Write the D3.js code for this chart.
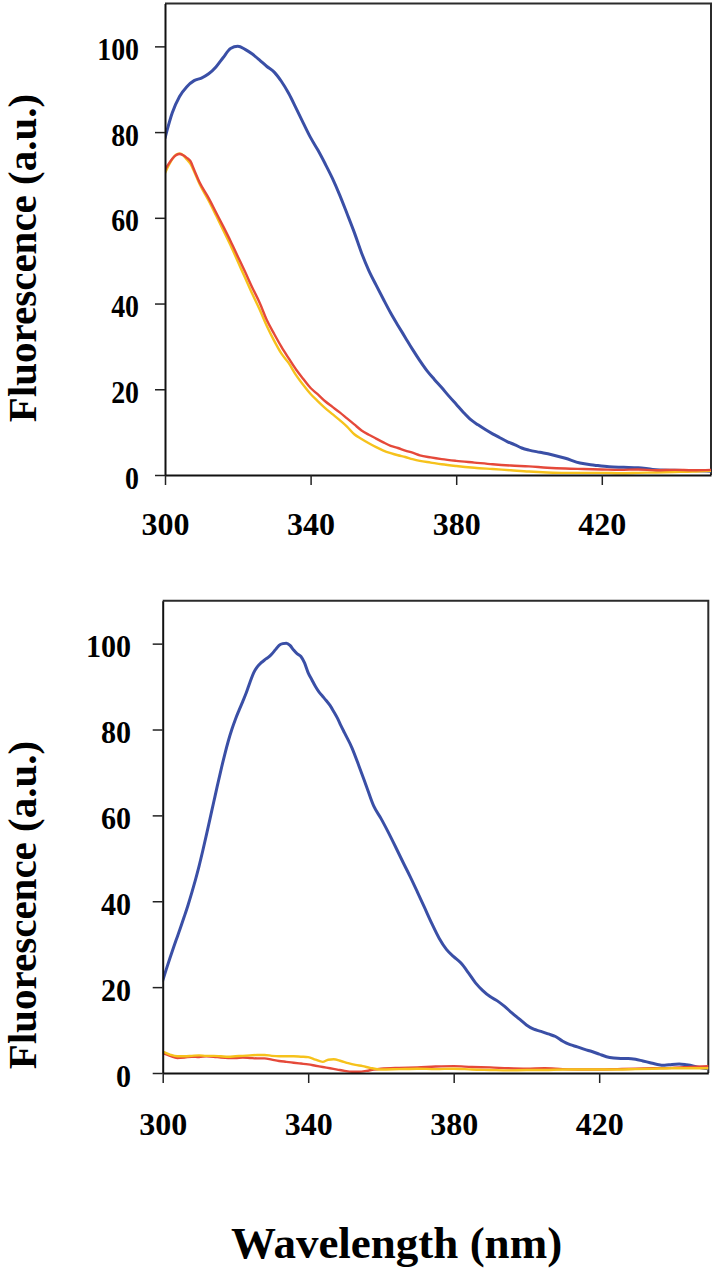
<!DOCTYPE html>
<html>
<head>
<meta charset="utf-8">
<script src="https://cdn.jsdelivr.net/npm/d3@7"></script>
<style>
  html, body { margin: 0; padding: 0; background: #ffffff; }
  svg { display: block; }
  text { font-family: "Liberation Serif", "Times New Roman", serif; font-weight: bold; fill: #000; }
</style>
</head>
<body>
<svg id="chart" width="715" height="1280"></svg>
<script>
// ---------- DATA ----------
const wavelengthTicks = [300, 340, 380, 420];
const fluorTicks = [0, 20, 40, 60, 80, 100];
const xDomain = [300, 450];
const yDomain = [0, 110];
const yTitle = "Fluorescence (a.u.)";
const xTitle = "Wavelength (nm)";

// top panel
const topBlue = [[300,78.6],[302,84.5],[304,88.3],[306,90.6],[308,92],[310,92.6],[312,93.6],[314,95.2],[316,97.4],[318,99.5],[320,100],[322,99.3],[324,98.2],[326,96.8],[328,95.3],[330,94],[332,91.8],[334,89],[336,85.6],[338,82.1],[340,78.7],[342,75.8],[344,72.6],[346,69.2],[348,65.3],[350,61],[352,56.6],[354,51.8],[356,47.7],[358,44.3],[360,41],[362,37.8],[364,34.9],[366,32.1],[368,29.3],[370,26.7],[372,24.3],[374,22.3],[376,20.4],[378,18.4],[380,16.5],[382,14.6],[384,12.9],[386,11.7],[388,10.6],[390,9.6],[392,8.7],[394,7.8],[396,7.1],[398,6.3],[400,5.8],[403,5.3],[406,4.8],[410,3.9],[414,2.8],[418,2.3],[422,1.9],[426,1.8],[430,1.7],[434,1.3],[440,1.1],[446,1.0],[450,0.9]];
const topRed = [[300,71.2],[301,72.6],[302,73.8],[303,74.6],[304,74.9],[305,74.6],[306,74],[307,73.2],[308,71.2],[309.6,68.1],[312,64.6],[314,61.3],[316,58.0],[318,54.6],[320,51.0],[322,47.4],[324,43.7],[326,40.2],[328,36.1],[330,32.9],[332,29.9],[334,27.2],[336,24.6],[338,22.4],[340,20.3],[342,18.8],[344,17.2],[346,15.9],[348,14.6],[350,13.2],[352,11.8],[354,10.4],[356,9.4],[358,8.5],[360,7.6],[362,6.8],[364,6.3],[366,5.7],[368,5.2],[370,4.6],[373,4.1],[376,3.7],[380,3.3],[385,2.9],[390,2.5],[395,2.2],[400,2.0],[405,1.7],[410,1.5],[415,1.4],[420,1.3],[425,1.2],[430,1.3],[435,1.1],[440,1.2],[445,1.1],[450,1.2]];
const topYellow = [[300,70.4],[301,72.2],[302,73.7],[303,74.7],[304,75],[305,74.6],[306,73.6],[307,72.6],[308,70.8],[309.6,67.7],[312,64.0],[314,60.6],[316,57.1],[318,53.6],[320,49.8],[322,46.0],[324,42.2],[326,38.6],[328,34.7],[330,31.3],[332,28.3],[334,26.1],[336,23.3],[338,21.0],[340,18.9],[342,17.2],[344,15.6],[346,14.2],[348,12.8],[350,11.3],[352,9.5],[354,8.4],[356,7.4],[358,6.5],[360,5.7],[362,5.1],[364,4.6],[366,4.2],[368,3.7],[370,3.3],[373,2.9],[376,2.5],[380,2.1],[385,1.7],[390,1.4],[395,1.1],[400,0.8],[405,0.6],[410,0.5],[415,0.5],[420,0.5],[425,0.4],[430,0.5],[435,0.6],[440,0.7],[445,0.8],[450,1.0]];

// bottom panel
const bottomBlue = [[300,21.5],[301,24.2],[302,26.8],[303,29.3],[304,31.7],[305,34.1],[306,36.6],[307,39.2],[308,42.0],[309,45.0],[310,48.2],[311,51.7],[312,55.4],[313,59.2],[314,63.0],[315,66.8],[316,70.5],[317,74.0],[318,77.2],[319,80.0],[320,82.4],[321,84.5],[322,86.5],[323,88.6],[324,91.0],[325,93.2],[326,94.6],[327,95.5],[328,96.2],[329,96.8],[330,97.6],[331,98.6],[332,99.6],[333,100],[334,100.1],[335,99.6],[336,98.5],[337,97.6],[338,97.0],[339,95.5],[340,93.2],[341,91.6],[342,90.0],[343,88.7],[344,87.7],[345,86.7],[346,85.6],[347,84.2],[348,82.7],[349,80.9],[350,79.2],[352,75.8],[354,71.4],[356,66.8],[358,62.2],[360,59.3],[362,56.1],[364,52.7],[366,49.2],[368,45.8],[370,42.2],[372,38.5],[374,34.8],[376,31.4],[378,28.8],[380,27.1],[382,25.6],[384,23.4],[386,21.0],[388,19.2],[390,17.8],[392,16.8],[394,15.5],[396,14.0],[398,12.6],[400,11.2],[402,10.2],[404,9.7],[406,9.1],[408,8.5],[410,7.4],[412,6.6],[414,6.1],[416,5.5],[418,5.0],[420,4.4],[422,3.8],[424,3.5],[426,3.4],[428,3.4],[430,3.2],[432,2.8],[434,2.4],[436,2.0],[438,1.8],[440,2.0],[442,2.1],[444,1.9],[446,1.6],[448,1.2],[450,1.0]];
const bottomRed = [[300,4.6],[302,4.0],[304,3.5],[306,3.6],[308,3.8],[310,3.7],[312,3.9],[314,3.8],[316,3.6],[318,3.5],[320,3.5],[322,3.6],[324,3.5],[326,3.4],[328,3.4],[330,3.1],[332,2.8],[334,2.6],[336,2.4],[338,2.2],[340,2.0],[342,1.7],[344,1.4],[346,1.1],[348,0.8],[350,0.5],[352,0.3],[354,0.3],[356,0.5],[358,0.8],[360,1.0],[365,1.2],[370,1.3],[375,1.5],[380,1.6],[385,1.4],[390,1.3],[395,1.1],[400,1.0],[405,1.1],[410,0.9],[415,0.8],[420,0.8],[425,0.9],[430,1.0],[435,1.1],[440,1.2],[445,1.4],[450,1.6]];
const bottomYellow = [[300,5.0],[302,4.3],[304,3.9],[306,3.9],[308,4.0],[310,4.1],[312,4.0],[314,4.0],[316,3.9],[318,3.8],[320,3.9],[322,4.0],[324,4.1],[326,4.2],[328,4.2],[330,4.0],[332,3.9],[334,3.9],[336,3.9],[338,3.8],[340,3.7],[342,3.1],[344,2.6],[345.5,3.1],[347,3.2],[349,2.8],[351,2.3],[353,1.9],[355,1.6],[357,1.2],[360,0.8],[365,0.9],[370,1.0],[375,0.9],[380,1.0],[385,0.8],[390,0.7],[395,0.6],[400,0.7],[405,0.7],[410,0.8],[415,0.8],[420,0.8],[425,0.8],[430,0.9],[435,1.0],[440,1.1],[445,1.1],[450,1.1]];

// ---------- STYLE / LAYOUT ----------
const colors = { blue: "#3a4fa6", red: "#e5493a", yellow: "#f6c21c" };

const panels = [
  { left: 165, right: 711, top: 3.5, bottom: 475, yPad: 16, ySqueeze: 0.87, xLabelBase: 60, titleY: 258,
    series: [ {d: topBlue, c: colors.blue, w: 3}, {d: topYellow, c: colors.yellow, w: 2.4}, {d: topRed, c: colors.red, w: 2.4} ] },
  { left: 162.7, right: 708.3, top: 600.7, bottom: 1073, yPad: 21.7, ySqueeze: 0.94, xLabelBase: 62, titleY: 905,
    series: [ {d: bottomBlue, c: colors.blue, w: 3}, {d: bottomRed, c: colors.red, w: 2.4}, {d: bottomYellow, c: colors.yellow, w: 2.4} ] }
];

const svg = d3.select("#chart");

panels.forEach((p, i) => {
  const x = d3.scaleLinear().domain(xDomain).range([p.left, p.right]);
  const y = d3.scaleLinear().domain(yDomain).range([p.bottom, p.top]);

  const g = svg.append("g");

  // frame (top & right)
  g.append("path")
    .attr("d", `M${x(xDomain[0])},${y(yDomain[1])}H${x(xDomain[1])}V${y(yDomain[0])}`)
    .attr("fill", "none").attr("stroke", "#2b2b2b").attr("stroke-width", 2);

  // clip
  const clipId = "clip" + i;
  svg.append("clipPath").attr("id", clipId).append("rect")
    .attr("x", p.left).attr("y", p.top).attr("width", p.right - p.left).attr("height", p.bottom - p.top + 2);

  const line = d3.line().x(d => x(d[0])).y(d => y(d[1])).curve(d3.curveMonotoneX);
  p.series.forEach(s => {
    g.append("path").datum(s.d)
      .attr("clip-path", `url(#${clipId})`)
      .attr("d", line)
      .attr("fill", "none").attr("stroke", s.c).attr("stroke-width", s.w)
      .attr("stroke-linejoin", "round").attr("stroke-linecap", "round");
  });

  // y axis
  const ya = g.append("g").attr("transform", `translate(${p.left},0)`)
    .call(d3.axisLeft(y).tickValues(fluorTicks).tickSize(10).tickSizeOuter(0).tickPadding(p.yPad));
  ya.select(".domain").attr("stroke", "#111").attr("stroke-width", 2);
  ya.selectAll(".tick line").attr("stroke", "#222").attr("stroke-width", 1.5);
  ya.selectAll(".tick text")
    .attr("font-family", "Liberation Serif, serif").attr("font-weight", "bold").attr("font-size", 32)
    .attr("dy", "0.41em").attr("fill", "#000")
    .each(function() {
      const L = this.getComputedTextLength();
      d3.select(this).attr("textLength", L * p.ySqueeze).attr("lengthAdjust", "spacingAndGlyphs");
    });

  // x axis
  const xa = g.append("g").attr("transform", `translate(0,${p.bottom})`)
    .call(d3.axisBottom(x).tickValues(wavelengthTicks).tickSize(10).tickSizeOuter(0));
  xa.select(".domain").attr("stroke", "#111").attr("stroke-width", 2);
  xa.selectAll(".tick line").attr("stroke", "#222").attr("stroke-width", 1.5);
  xa.selectAll(".tick text")
    .attr("font-family", "Liberation Serif, serif").attr("font-weight", "bold").attr("font-size", 32)
    .attr("y", p.xLabelBase).attr("dy", 0).attr("fill", "#000");

  // y title
  svg.append("text")
    .attr("transform", `translate(36,${p.titleY}) rotate(-90)`)
    .attr("text-anchor", "middle")
    .attr("font-size", 41)
    .text(yTitle);
});

svg.append("text")
  .attr("x", 396.5).attr("y", 1258)
  .attr("text-anchor", "middle")
  .attr("font-size", 45)
  .text(xTitle);
</script>
</body>
</html>
